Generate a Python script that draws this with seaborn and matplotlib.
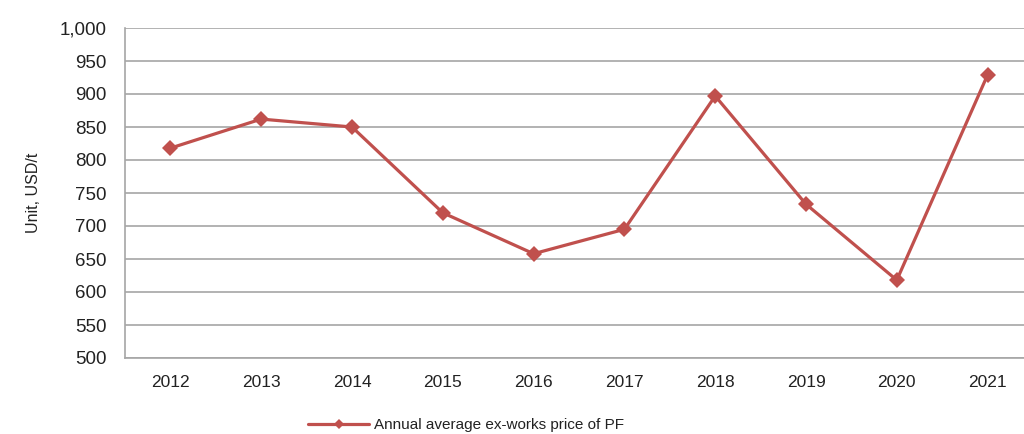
import matplotlib
matplotlib.use("Agg")
import matplotlib.pyplot as plt
import seaborn as sns
import pandas as pd
import numpy as np
from matplotlib.ticker import FuncFormatter, FixedLocator

years = ["2012", "2013", "2014", "2015", "2016", "2017", "2018", "2019", "2020", "2021"]
prices = [818, 862, 850, 720, 658, 695, 897, 733, 618, 929]
series_name = "Annual average ex-works price of PF"

sns.set_style("white")
plt.rcParams['font.family'] = ['Liberation Sans', 'DejaVu Sans']

df = pd.DataFrame({"pos": np.arange(len(years)), "price": prices, "series": series_name})

fig = plt.figure(figsize=(10.24, 4.34), dpi=100)
ax = fig.add_axes([125/1024, 1 - 358/434, (1033 - 125)/1024, (358 - 28)/434])

grid_c = "#A6A6A6"
sns.lineplot(data=df, x="pos", y="price", hue="series", palette=["#C0504D"],
             marker="D", markersize=8, markeredgewidth=0, linewidth=2.3, ax=ax, legend=True)

ax.set_xlim(-0.5, len(years) - 0.5)
ax.set_ylim(500, 1000)
ax.set_yticks(np.arange(500, 1001, 50))
ax.yaxis.set_major_formatter(FuncFormatter(lambda v, p: f"{int(v):,}"))
ax.yaxis.grid(True, color=grid_c, linewidth=1.2)
ax.set_axisbelow(True)

ax.set_xticks(np.arange(len(years)))
ax.set_xticklabels(years)
ax.xaxis.set_minor_locator(FixedLocator(np.arange(-0.5, len(years), 1.0)))
ax.tick_params(axis="x", which="major", length=0, labelsize=12.5, pad=12, colors="#222222")
ax.tick_params(axis="x", which="minor", length=6, width=1.2, color=grid_c, direction="out")
ax.tick_params(axis="y", length=7, width=1.2, color=grid_c, labelsize=13.5, pad=6, labelcolor="#222222", direction="out")

for s in ["top", "right"]:
    ax.spines[s].set_visible(False)
for s in ["left", "bottom"]:
    ax.spines[s].set_color(grid_c)
    ax.spines[s].set_linewidth(1.2)

ax.set_xlabel("")
ax.set_ylabel("Unit, USD/t", fontsize=11.5, color="#222222", labelpad=14)

leg = ax.legend(loc="center", bbox_to_anchor=(466/1024, 1 - 425/434), bbox_transform=fig.transFigure,
                frameon=False, fontsize=11, handlelength=4.0, handletextpad=0.3)
for t in leg.get_texts():
    t.set_color("#222222")
for h in leg.legend_handles:
    h.set_markersize(5)

fig.savefig("out.png", dpi=100)
